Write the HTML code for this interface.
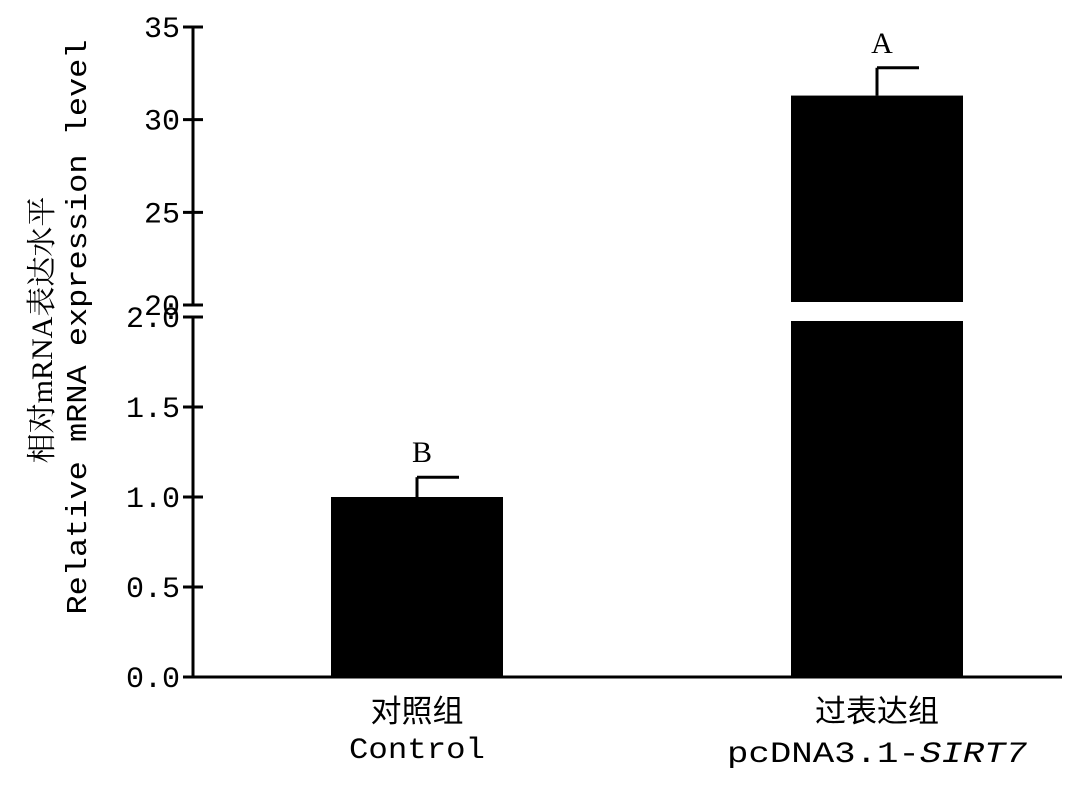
<!DOCTYPE html>
<html><head><meta charset="utf-8"><style>
html,body{margin:0;padding:0;background:#fff;}
svg text{fill:#000;}
</style></head><body>
<svg width="1083" height="782" viewBox="0 0 1083 782" xmlns="http://www.w3.org/2000/svg" id="chart">
<g id="axes"></g>
<g id="bars"></g>
<text transform="translate(52,330) rotate(-90)" text-anchor="middle" font-family="'Liberation Serif','Noto Serif CJK SC',serif" font-size="30">相对mRNA表达水平</text>
<text transform="translate(86,327) rotate(-90)" text-anchor="middle" font-family="'Liberation Mono',monospace" font-size="29" textLength="575" lengthAdjust="spacingAndGlyphs">Relative mRNA expression level</text>
<text x="417" y="722" text-anchor="middle" font-family="'Noto Sans CJK SC',sans-serif" font-size="31">对照组</text>
<text x="417" y="758" text-anchor="middle" font-family="'Liberation Mono',monospace" font-size="30" textLength="136" lengthAdjust="spacingAndGlyphs">Control</text>
<text x="877" y="722" text-anchor="middle" font-family="'Noto Sans CJK SC',sans-serif" font-size="31">过表达组</text>
<text x="877" y="762" text-anchor="middle" font-family="'Liberation Mono',monospace" font-size="30" textLength="300" lengthAdjust="spacingAndGlyphs">pcDNA3.1-<tspan font-style="italic">SIRT7</tspan></text>
</svg>
<script>
const categories = ['Control', 'pcDNA3.1-SIRT7'];
const values = [1.0, 31.3];
const errors = [0.11, 1.5];
const sigLetters = ['B', 'A'];
const lowTicks = ['0.0', '0.5', '1.0', '1.5', '2.0'];
const lowTickVals = [0, 0.5, 1.0, 1.5, 2.0];
const highTicks = ['20', '25', '30', '35'];
const highTickVals = [20, 25, 30, 35];

const NS = 'http://www.w3.org/2000/svg';
const axisX = 193;
// lower segment 0..2 -> 677..317 ; upper segment 20..35 -> 305..27
function yLow(v){ return 677 - v * 180; }
function yHigh(v){ return 305 - (v - 20) * (278 / 15); }
function yVal(v){ return v <= 2 ? yLow(v) : yHigh(v); }
const centers = [417, 877];
const barW = 172;

function mk(tag, attrs, parent){
  const e = document.createElementNS(NS, tag);
  for (const k in attrs) e.setAttribute(k, attrs[k]);
  parent.appendChild(e);
  return e;
}
const axes = document.getElementById('axes');
const bars = document.getElementById('bars');

let l = mk('line', {x1:axisX, y1:yLow(0)+1.5, x2:axisX, y2:yLow(2), stroke:'#000', 'stroke-width':3}, axes);


l = mk('line', {x1:axisX, y1:yHigh(20), x2:axisX, y2:yHigh(35), stroke:'#000', 'stroke-width':3}, axes);


l = mk('line', {x1:axisX, y1:yLow(0), x2:1062, y2:yLow(0), stroke:'#000', 'stroke-width':3}, axes);



lowTickVals.forEach((v, i) => {
  const y = yLow(v);
  const t = mk('line', {x1:axisX-10, y1:y, x2:axisX+10, y2:y, stroke:'#000', 'stroke-width':3}, axes);
  
  
  const tx = mk('text', {x:axisX-13, y:y+10, 'text-anchor':'end', 'font-family':"'Liberation Mono',monospace", 'font-size':30}, axes);
  
  
  tx.textContent = lowTicks[i];
});
highTickVals.forEach((v, i) => {
  const y = yHigh(v);
  const t = mk('line', {x1:axisX-10, y1:y, x2:axisX+10, y2:y, stroke:'#000', 'stroke-width':3}, axes);
  
  
  const tx = mk('text', {x:axisX-13, y:y+10, 'text-anchor':'end', 'font-family':"'Liberation Mono',monospace", 'font-size':30}, axes);
  
  
  tx.textContent = highTicks[i];
});

values.forEach((v, i) => {
  const x = centers[i] - barW / 2;
  if (v <= 2) {
    const r = mk('rect', {x:x, y:yLow(v), width:barW, height:yLow(0)-yLow(v), fill:'#000'}, bars);
    
    
  } else {
    const r1 = mk('rect', {x:x, y:yLow(2)+4, width:barW, height:yLow(0)-yLow(2)-4, fill:'#000'}, bars);
    
    
    const r2 = mk('rect', {x:x, y:yHigh(v), width:barW, height:yHigh(20)-3-yHigh(v), fill:'#000'}, bars);
    
    
  }
  const yt = yVal(v + errors[i]);
  const e1 = mk('line', {x1:centers[i], y1:yVal(v), x2:centers[i], y2:yt, stroke:'#000', 'stroke-width':3}, bars);
  
  
  const e2 = mk('line', {x1:centers[i], y1:yt, x2:centers[i]+42, y2:yt, stroke:'#000', 'stroke-width':3}, bars);
  
  
  const s = mk('text', {x:centers[i]+5, y:yt-15, 'text-anchor':'middle', 'font-family':"'Liberation Serif',serif", 'font-size':30}, bars);
  
  
  s.textContent = sigLetters[i];
});
</script>
</body></html>
